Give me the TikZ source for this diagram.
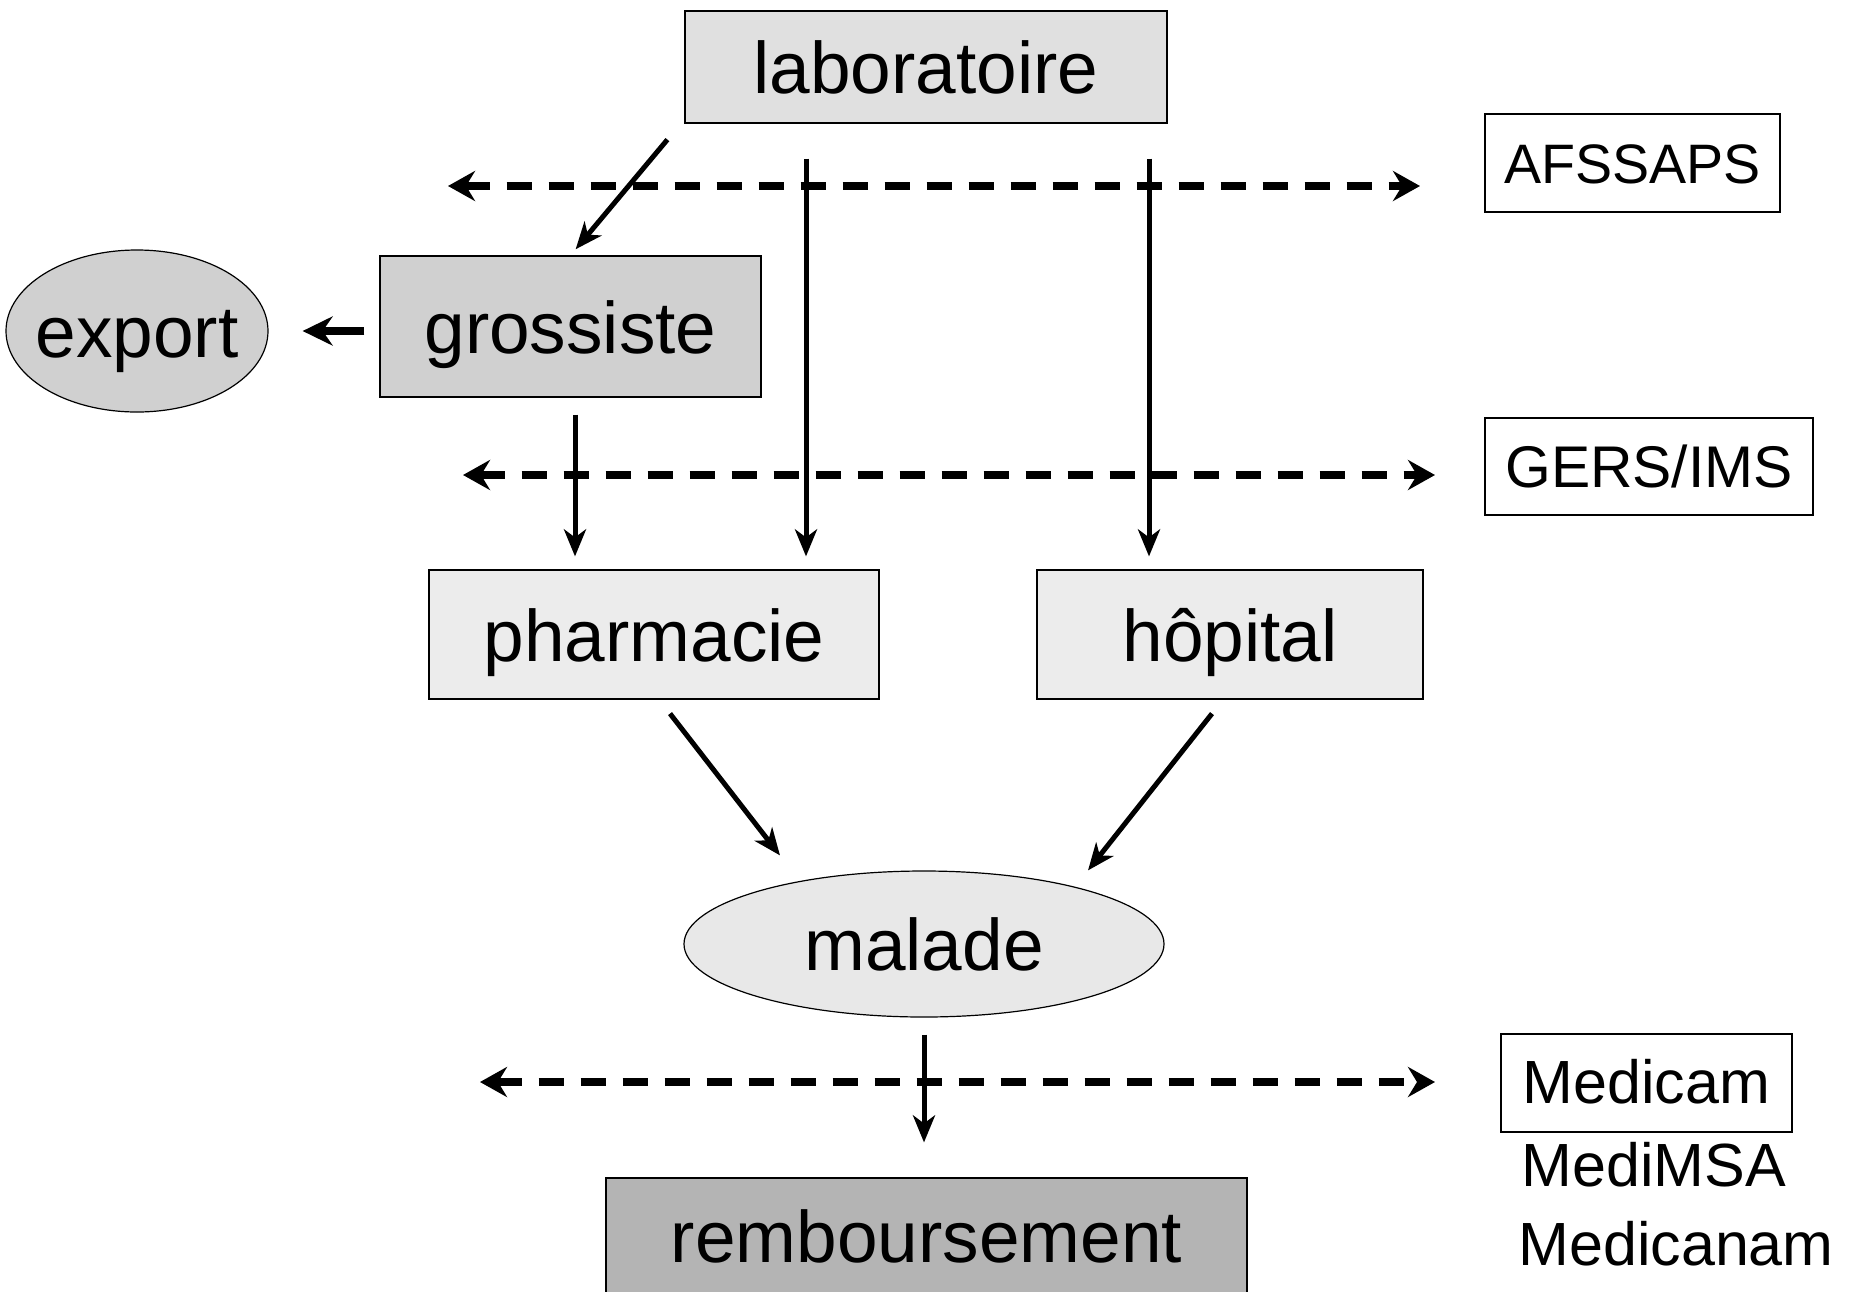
\documentclass[tikz,border=0pt]{standalone}
\usepackage{fontspec}
\setmainfont{Liberation Sans}
\usetikzlibrary{arrows.meta,shapes}

\definecolor{labgray}{HTML}{E0E0E0}
\definecolor{grosgray}{HTML}{D0D0D0}
\definecolor{pharmgray}{HTML}{ECECEC}
\definecolor{malgray}{HTML}{E8E8E8}
\definecolor{rembgray}{HTML}{B4B4B4}

\newcommand{\bigtxt}{\fontsize{36.5pt}{40pt}\selectfont}
\newcommand{\smalltxt}{\fontsize{28.5pt}{32pt}\selectfont}
\newcommand{\meditxt}{\fontsize{30.5pt}{34pt}\selectfont}

\begin{document}
\begin{tikzpicture}[x=0.5pt,y=-0.5pt,
		box/.style={rectangle,draw,line width=0.6pt,inner sep=0pt,font=\bigtxt,text height=26.6pt,text depth=0pt},
		oval/.style={ellipse,draw,line width=0.6pt,inner xsep=-12pt,inner ysep=0pt,font=\bigtxt,text height=26.6pt,text depth=0pt},
		organism/.style={rectangle,draw,line width=0.6pt,inner sep=0pt,font=\smalltxt,text height=20.6pt,text depth=0pt},
		flow/.style={-{Stealth[length=13.5pt,width=11pt,inset=4pt]},line width=2.5pt},
		thickflow/.style={-{Stealth[length=15pt,width=14.5pt,inset=5pt]},line width=4pt},
		dataflow/.style={{Stealth[length=13.5pt,width=15pt,inset=4.5pt]}-{Stealth[length=13.5pt,width=15pt,inset=4.5pt]},
			line width=3.8pt,dash pattern=on 12.5pt off 8.5pt}]
		
		\useasboundingbox (0,0) rectangle (1858,1291);
		
		\node[box,fill=labgray,minimum width=241pt,minimum height=56pt]    (lab)   at (926,67)      {laboratoire};
		\node[box,fill=grosgray,minimum width=190.5pt,minimum height=70.5pt] (gros)  at (570.5,326.5) {grossiste};
		\node[oval,fill=grosgray,minimum width=131pt,minimum height=81pt]   (exp)   at (137,331)     {export};
		\node[box,fill=pharmgray,minimum width=225pt,minimum height=64.5pt] (pharm) at (654,634.5)   {pharmacie};
		\node[box,fill=pharmgray,minimum width=193pt,minimum height=64.5pt] (hop)   at (1230,634.5)  {hôpital};
		\node[oval,fill=malgray,minimum width=240pt,minimum height=73pt]    (mal)   at (924,944)     {malade};
		\node[box,fill=rembgray,minimum width=320.5pt,minimum height=58pt]  (remb)  at (926.5,1236)  {remboursement};
		
		\node[organism,font=\fontsize{27.8pt}{32pt}\selectfont,minimum width=147.5pt,minimum height=49pt] (afs)  at (1632.5,163)  {AFSSAPS};
		\node[organism,font=\fontsize{29.4pt}{32pt}\selectfont,minimum width=164pt,minimum height=48.5pt] (gers) at (1649,466.5)  {GERS/IMS};
		\node[organism,font=\meditxt,minimum width=145.5pt,minimum height=49pt] (med)  at (1646.5,1083) {Medicam};
		\node[anchor=west,inner sep=0pt,font=\meditxt] (msa)  at (1521,1165) {MediMSA};
		\node[anchor=west,inner sep=0pt,font=\meditxt] (cnam) at (1518,1244) {Medicanam};
		
		% ends of the dashed data lines
		\coordinate (afsL)  at (448,186);
		\coordinate (afsR)  at (1420,186);
		\coordinate (gersL) at (463,475);
		\coordinate (gersR) at (1435,475);
		\coordinate (medL)  at (480,1082);
		\coordinate (medR)  at (1435,1082);
		
		\draw[dataflow] (afsL) -- (afsR);
		\draw[dataflow] (gersL) -- (gersR);
		\draw[dataflow] (medL) -- (medR);
		
		\draw[flow,shorten >=4pt] ([xshift=-8.5pt,yshift=-8pt]lab.south west) -- (gros.north);
		\draw[flow,shorten <=17.5pt,shorten >=6.5pt] ([xshift=-60pt]lab.south) -- ([xshift=-60pt]lab.south |- pharm.north);
		\draw[flow,shorten <=17.5pt,shorten >=6.5pt] ([xshift=111.5pt]lab.south) -- ([xshift=111.5pt]lab.south |- hop.north);
		\draw[flow,shorten <=8.5pt,shorten >=6.5pt] ([xshift=2.25pt]gros.south) -- ([xshift=2.25pt]gros.south |- pharm.north);
		\draw[thickflow,shorten <=7.5pt,shorten >=17pt] (exp.east -| gros.west) -- (exp.east);
		\draw[flow] ([xshift=8pt,yshift=-7pt]pharm.south) -- ([xshift=-72pt,yshift=7.5pt]mal.north);
		\draw[flow] ([xshift=-9pt,yshift=-7pt]hop.south) -- ([xshift=82pt]mal.north);
		\draw[flow,shorten <=8.5pt,shorten >=17.5pt] (mal.south) -- (mal.south |- remb.north);
	\end{tikzpicture}
\end{document}
